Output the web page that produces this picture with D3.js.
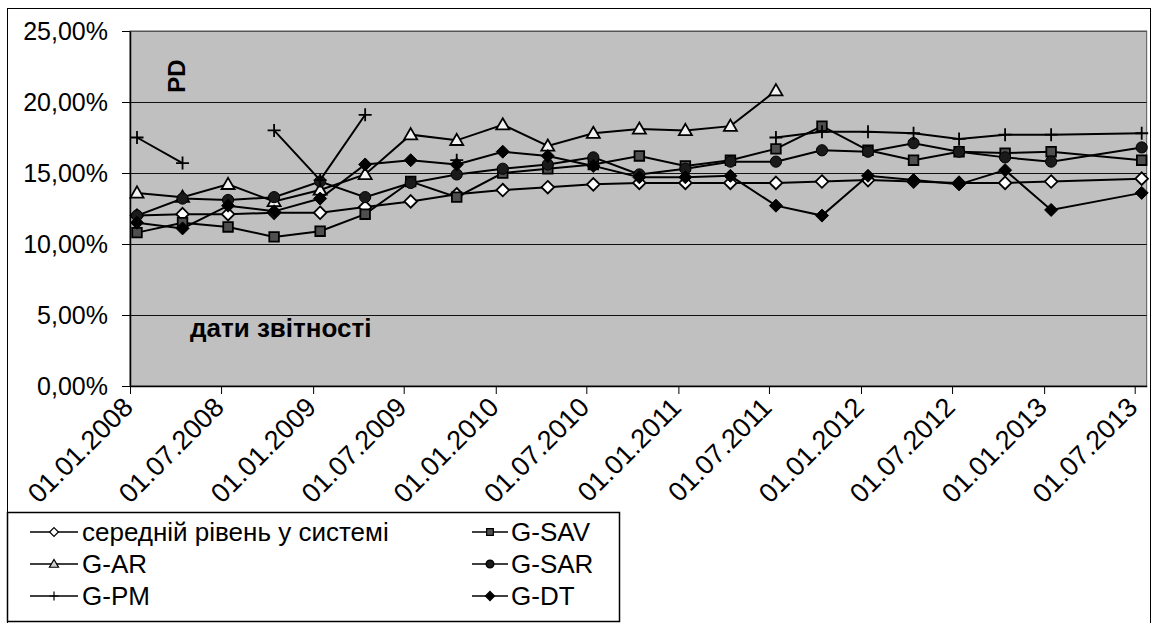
<!DOCTYPE html>
<html>
<head>
<meta charset="utf-8">
<script src="https://cdn.jsdelivr.net/npm/d3@7"></script>
<style>
  html, body { margin: 0; padding: 0; background: #fff; }
  svg { display: block; font-family: "Liberation Sans", Arial, sans-serif; }
</style>
</head>
<body>
<svg id="chart" width="1155" height="623"></svg>
<script>
// Reporting dates (quarterly observations)
const reportDates = [
  "2008-01-15","2008-04-15","2008-07-15","2008-10-15",
  "2009-01-15","2009-04-15","2009-07-15","2009-10-15",
  "2010-01-15","2010-04-15","2010-07-15","2010-10-15",
  "2011-01-15","2011-04-15","2011-07-15","2011-10-15",
  "2012-01-15","2012-04-15","2012-07-15","2012-10-15",
  "2013-01-15","2013-07-15"
];
const axisStart = "2008-01-01";
const axisEnd = "2013-07-25";
const tickDates = [
  "2008-01-01","2008-07-01","2009-01-01","2009-07-01","2010-01-01","2010-07-01",
  "2011-01-01","2011-07-01","2012-01-01","2012-07-01","2013-01-01","2013-07-01"
];
const yTicks = [0, 5, 10, 15, 20, 25];

// PD values, %
const avgSystem = [12.0,12.1,12.1,12.2,12.2,12.6,13.0,13.5,13.8,14.0,14.2,14.3,14.3,14.3,14.3,14.4,14.5,14.4,14.3,14.3,14.4,14.6];
const gSAV = [10.8,11.5,11.2,10.5,10.9,12.1,14.4,13.3,15.0,15.3,15.6,16.2,15.5,15.9,16.7,18.3,16.6,15.9,16.5,16.4,16.5,15.9];
const gAR  = [13.6,13.3,14.2,13.0,13.8,14.9,17.7,17.3,18.4,16.9,17.8,18.1,18.0,18.3,20.8,null,null,null,null,null,null,null];
const gSAR = [12.0,13.2,13.1,13.3,14.4,13.3,14.3,14.9,15.3,15.6,16.1,14.9,15.3,15.8,15.8,16.6,16.5,17.1,16.5,16.1,15.8,16.8];
const gPM  = [17.5,15.7,null,18.0,14.5,19.1,null,15.9,null,null,null,null,null,null,17.5,17.9,17.9,17.8,17.4,17.7,17.7,17.8];
const gDT  = [11.5,11.1,12.7,12.3,13.2,15.6,15.9,15.6,16.5,16.2,15.5,14.7,14.7,14.8,12.7,12.0,14.8,14.5,14.2,15.2,12.4,13.6];

const seriesNames = ["середній рівень у системі","G-SAV","G-AR","G-SAR","G-PM","G-DT"];
const axisTitle = "PD";
const dateTitle = "дати звітності";

const parse = d3.utcParse("%Y-%m-%d");
const fmtDate = d3.utcFormat("%d.%m.%Y");
const locale = d3.formatLocale({decimal: ",", thousands: " ", grouping: [3], currency: ["", ""]});
const fmtPct = v => locale.format(".2f")(v) + "%";

const svg = d3.select("#chart");
const plot = {left: 130, right: 1146.7, top: 31, bottom: 386};

const x = d3.scaleUtc().domain([parse(axisStart), parse(axisEnd)]).range([plot.left, plot.right]);
const y = d3.scaleLinear().domain([0, 25]).range([plot.bottom, plot.top]);

// outer chart frame
svg.append("rect").attr("x", 7.5).attr("y", 8.5).attr("width", 1143).attr("height", 640)
  .attr("fill", "#fff").attr("stroke", "#000").attr("stroke-width", 1);

// plot background
svg.append("rect").attr("x", plot.left).attr("y", plot.top)
  .attr("width", plot.right - plot.left).attr("height", plot.bottom - plot.top)
  .attr("fill", "#c0c0c0").attr("stroke", "#555").attr("stroke-width", 1);

// horizontal gridlines
svg.append("g").selectAll("line").data(yTicks.filter(t => t > 0))
  .join("line")
  .attr("x1", plot.left).attr("x2", plot.right)
  .attr("y1", d => Math.round(y(d)) + 0.5).attr("y2", d => Math.round(y(d)) + 0.5)
  .attr("stroke", d => d === 25 ? "#555" : "#111").attr("stroke-width", 1);

// y axis
const yAxis = svg.append("g").attr("transform", `translate(${plot.left},0)`)
  .call(d3.axisLeft(y).tickValues(yTicks).tickSize(8).tickSizeOuter(0).tickPadding(14).tickFormat(fmtPct));
yAxis.select(".domain").attr("stroke", "#000").attr("stroke-width", 1.5);
yAxis.selectAll(".tick line").attr("stroke", "#000");
yAxis.selectAll("text").attr("font-size", 25).attr("fill", "#000")
  .attr("font-family", "'Liberation Sans', Arial, sans-serif");

// x axis
const xAxis = svg.append("g").attr("transform", `translate(0,${plot.bottom})`)
  .call(d3.axisBottom(x).tickValues(tickDates.map(parse)).tickSize(8).tickSizeOuter(0).tickFormat(fmtDate));
xAxis.select(".domain").attr("stroke", "#000").attr("stroke-width", 1.5);
xAxis.selectAll(".tick line").attr("stroke", "#000");
xAxis.selectAll("text")
  .attr("font-size", 27).attr("fill", "#000")
  .attr("font-family", "'Liberation Sans', Arial, sans-serif")
  .attr("text-anchor", "end")
  .attr("y", 0).attr("dy", 0)
  .attr("transform", "translate(4,23) rotate(-45)");

// in-plot titles
svg.append("text").attr("transform", "translate(185,76) rotate(-90)")
  .attr("text-anchor", "middle").attr("font-size", 24).attr("font-weight", "bold")
  .text(axisTitle);
svg.append("text").attr("x", 190).attr("y", 337)
  .attr("font-size", 26).attr("font-weight", "bold").text(dateTitle);

// marker shapes
const shapes = {
  diamond: r => `M0,${-r}L${r},0L0,${r}L${-r},0Z`,
  square: r => `M${-r},${-r}H${r}V${r}H${-r}Z`,
  triangle: r => `M0,${-r * 1.05}L${r * 1.05},${r * 0.75}L${-r * 1.05},${r * 0.75}Z`,
  circle: r => `M${r},0A${r},${r} 0 1,1 ${-r},0A${r},${r} 0 1,1 ${r},0Z`,
  plus: r => `M${-r},0H${r}M0,${-r}V${r}`
};

const series = [
  {name: seriesNames[0], values: avgSystem, shape: "diamond", size: 6.3, fill: "#fff", sw: 1.8},
  {name: seriesNames[1], values: gSAV, shape: "square", size: 4.8, fill: "#4f4f4f", sw: 1.8},
  {name: seriesNames[2], values: gAR, shape: "triangle", size: 6.2, fill: "#f2f2f2", sw: 1.8},
  {name: seriesNames[3], values: gSAR, shape: "circle", size: 5.6, fill: "#1a1a1a", sw: 1},
  {name: seriesNames[4], values: gPM, shape: "plus", size: 6.5, fill: "none", sw: 1.8},
  {name: seriesNames[5], values: gDT, shape: "diamond", size: 6.5, fill: "#000", sw: 1}
];

const line = d3.line()
  .defined(d => d.v != null)
  .x(d => x(d.date)).y(d => y(d.v));

const marks = svg.append("g");
series.forEach(s => {
  const pts = reportDates.map((d, i) => ({date: parse(d), v: s.values[i]}));
  const g = marks.append("g");
  g.append("path").datum(pts).attr("d", line)
    .attr("fill", "none").attr("stroke", "#000").attr("stroke-width", 2);
  g.selectAll("path.m").data(pts.filter(p => p.v != null)).join("path")
    .attr("class", "m")
    .attr("transform", p => `translate(${x(p.date)},${y(p.v)})`)
    .attr("d", shapes[s.shape](s.size))
    .attr("fill", s.fill).attr("stroke", "#000").attr("stroke-width", s.sw);
});

// legend
const legend = svg.append("g");
legend.append("rect").attr("x", 7.5).attr("y", 512.5).attr("width", 612).attr("height", 109)
  .attr("fill", "#fff").attr("stroke", "#000").attr("stroke-width", 1.5);
const cols = [{x0: 30, x1: 78, tx: 82}, {x0: 472, x1: 508, tx: 511}];
const rows = [532, 564, 596];
series.forEach((s, k) => {
  const c = cols[k % 2], ry = rows[Math.floor(k / 2)];
  const g = legend.append("g");
  g.append("line").attr("x1", c.x0).attr("x2", c.x1).attr("y1", ry).attr("y2", ry)
    .attr("stroke", "#000").attr("stroke-width", 1.5);
  g.append("path").attr("transform", `translate(${(c.x0 + c.x1) / 2},${ry})`)
    .attr("d", shapes[s.shape](s.size * 0.7))
    .attr("fill", s.shape === "triangle" ? "#d0d0d0" : s.fill)
    .attr("stroke", "#000").attr("stroke-width", 1.2);
  g.append("text").attr("x", c.tx).attr("y", ry).attr("dy", "0.36em")
    .attr("font-size", 26).text(s.name);
});
</script>
</body>
</html>
